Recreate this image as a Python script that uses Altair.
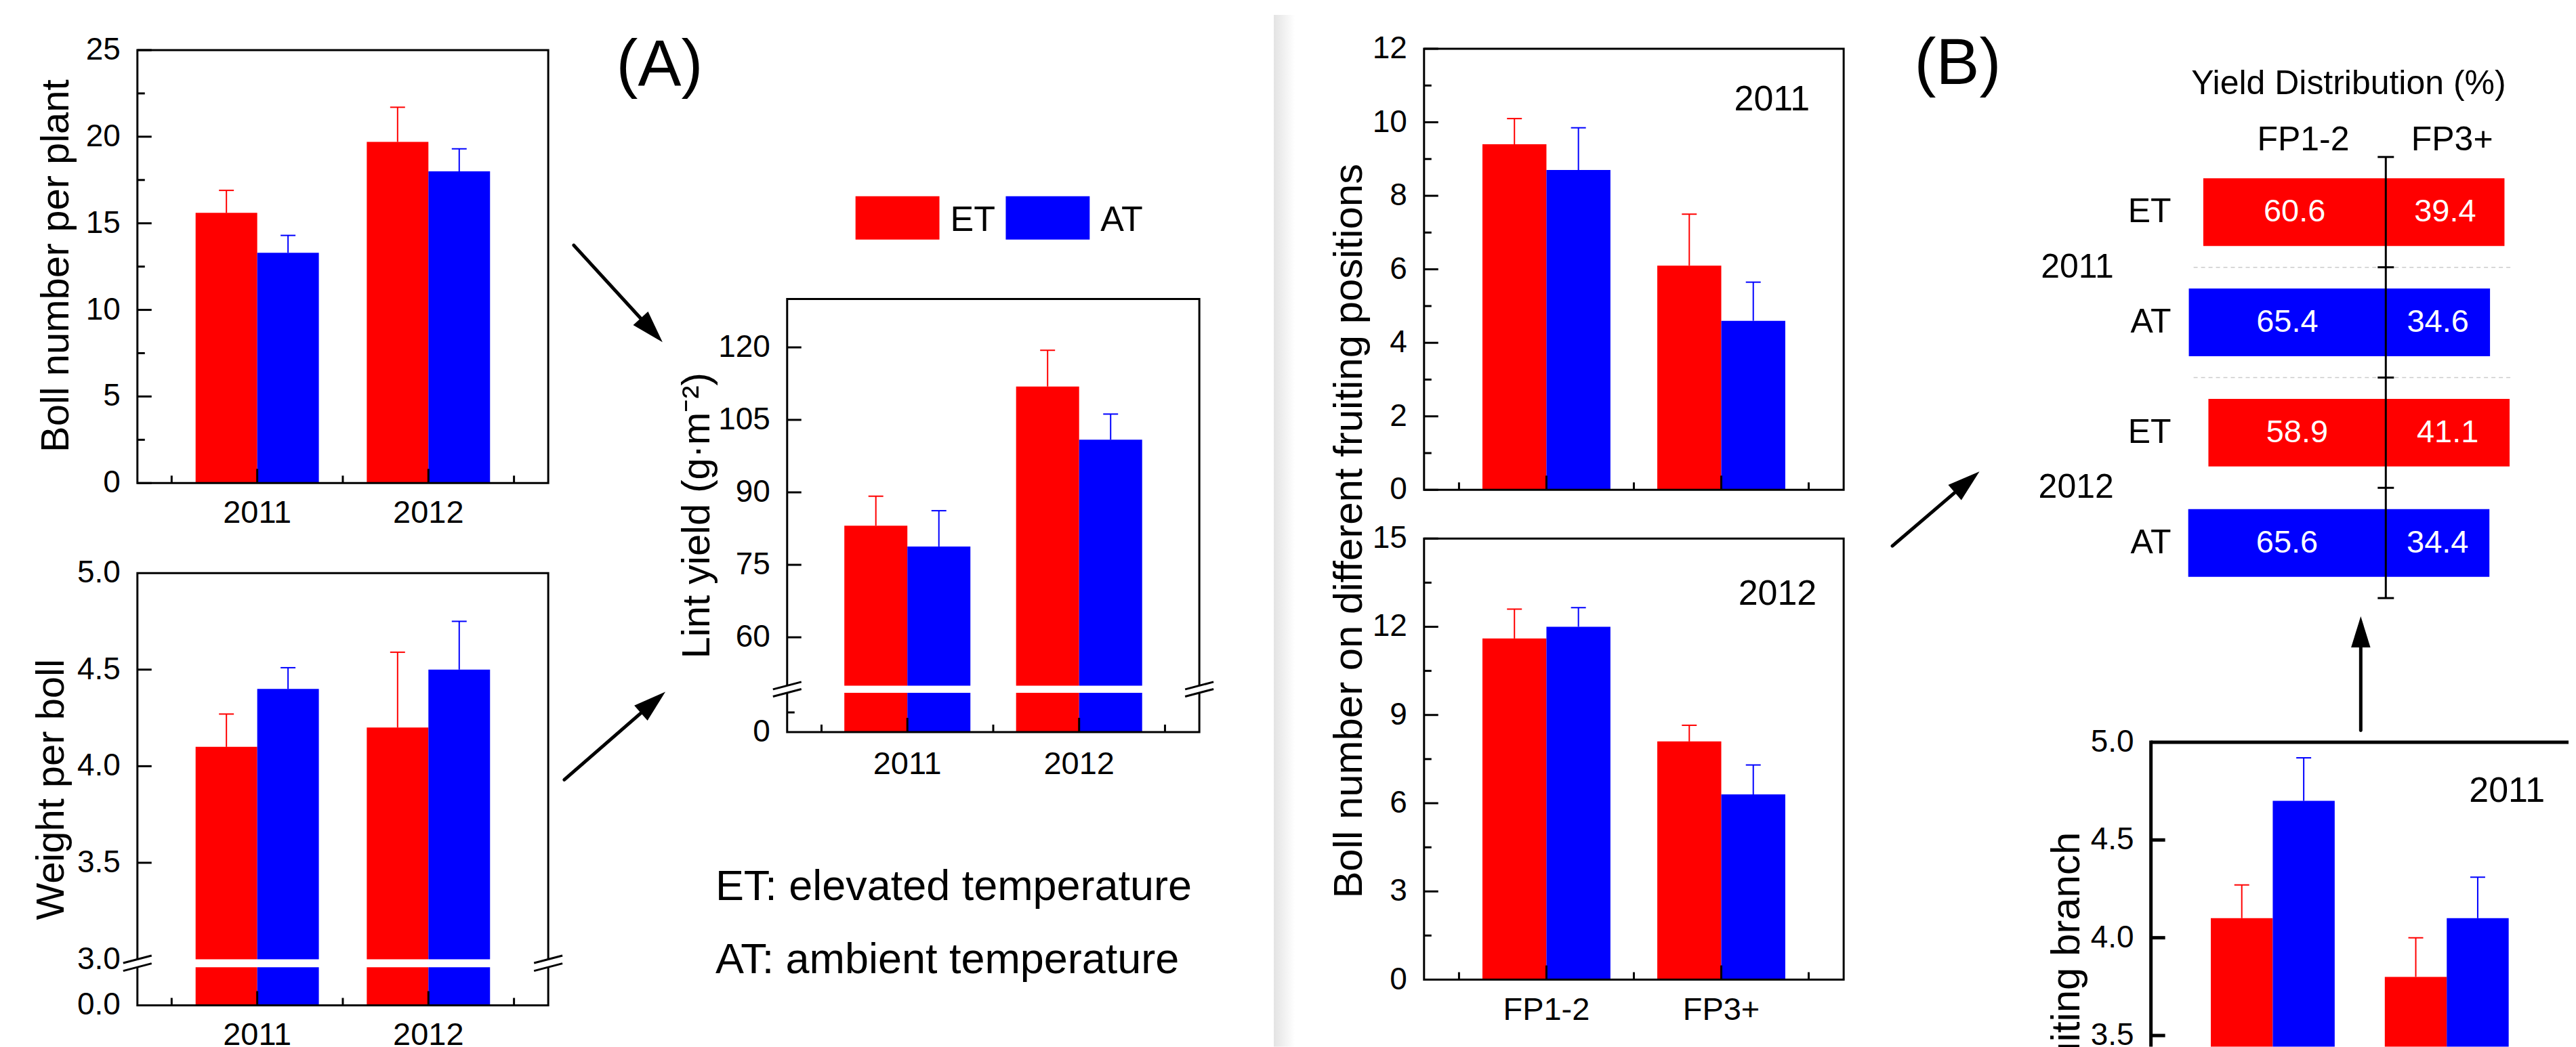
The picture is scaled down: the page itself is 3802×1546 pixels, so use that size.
import math
import altair as alt
import pandas as pd

FONT = "Liberation Sans"
RED = "#ff0000"
BLUE = "#0000ff"

# ---------------- data ----------------
years = ["2011", "2012"]
treatments = ["ET", "AT"]
positions = ["FP1-2", "FP3+"]

# order: 2011 ET, 2011 AT, 2012 ET, 2012 AT
boll_number = [15.6, 13.3, 19.7, 18.0]
boll_number_se = [1.3, 1.0, 2.0, 1.3]
boll_weight = [4.1, 4.4, 4.2, 4.5]
boll_weight_se = [0.17, 0.11, 0.39, 0.25]
lint_yield = [83.1, 78.8, 111.9, 100.9]
lint_yield_se = [6.1, 7.4, 7.5, 5.3]

# order: FP1-2 ET, FP1-2 AT, FP3+ ET, FP3+ AT
fp_2011 = [9.4, 8.7, 6.1, 4.6]
fp_2011_se = [0.7, 1.15, 1.4, 1.05]
fp_2012 = [11.6, 12.0, 8.1, 6.3]
fp_2012_se = [1.0, 0.65, 0.55, 1.0]

# yield distribution (%), order: 2011 ET, 2011 AT, 2012 ET, 2012 AT
dist_fp12 = [60.6, 65.4, 58.9, 65.6]
dist_fp3 = [39.4, 34.6, 41.1, 34.4]

# lower right panel (2011), order: FP1-2 ET, FP1-2 AT, FP3+ ET, FP3+ AT
branch_weight_2011 = [4.1, 4.7, 3.8, 4.1]
branch_weight_2011_se = [0.17, 0.22, 0.20, 0.21]

# axis ticks / labels
p1_ticks = [0, 5, 10, 15, 20, 25]
p1_minor = [2.5, 7.5, 12.5, 17.5, 22.5]
p2_label_values = [0, 3.0, 3.5, 4.0, 4.5, 5.0]
p2_ticks = [3.5, 4.0, 4.5]
p3_label_values = [0, 60, 75, 90, 105, 120]
p3_ticks = [60, 75, 90, 105, 120]
p3_minor = [5]
p4_ticks = [0, 2, 4, 6, 8, 10, 12]
p4_minor = [1, 3, 5, 7, 9, 11]
p5_ticks = [0, 3, 6, 9, 12, 15]
p5_minor = [1.5, 4.5, 7.5, 10.5, 13.5]
p7_label_values = [3.5, 4.0, 4.5, 5.0]
p7_ticks = [3.5, 4.0, 4.5]

notes = ["ET: elevated temperature", "AT: ambient temperature"]

# ---------------- helpers ----------------
ONE = pd.DataFrame({"k": [0]})
COLOR = alt.Color("trt:N", scale=alt.Scale(domain=treatments, range=[RED, BLUE]), legend=None)


def text_at(txt, x, y, size, **kw):
    return alt.Chart(ONE).mark_text(fontSize=size, font=FONT, **kw).encode(
        x=alt.value(x), y=alt.value(y), text=alt.value(txt))


def bar_panel(cats, means, ses, box, ydom, yrng, label_vals, label_txt, major, minor,
              xlab_y=-1.0, bw=0.36, stroke=3, clip=False, sides="box",
              brk=-1.0, gap=11.0, xticks=True):
    x0, y0, x1, y1 = box
    n = len(cats)
    rows = []
    k = 0
    for i, c in enumerate(cats):
        pos = i + 1
        for j, t in enumerate(treatments):
            lo = pos - bw if j == 0 else pos
            hi = pos if j == 0 else pos + bw
            rows.append({"cat": c, "trt": t, "lo": lo, "hi": hi, "xc": (lo + hi) / 2,
                         "mean": means[k], "top": means[k] + ses[k], "base": 0})
            k += 1
    df = pd.DataFrame(rows)
    xs = alt.Scale(domain=[0.3, n + 0.7], range=[x0, x1], zero=False, nice=False)
    ys = alt.Scale(domain=ydom, range=yrng, zero=False, nice=False)
    L = []
    L.append(alt.Chart(df).mark_bar(clip=clip).encode(
        x=alt.X("lo:Q", scale=xs, axis=None), x2="hi:Q",
        y=alt.Y("mean:Q", scale=ys, axis=None, stack=None), y2="base:Q", color=COLOR))
    L.append(alt.Chart(df).mark_rule(strokeWidth=2, clip=clip).encode(
        x=alt.X("xc:Q", scale=xs, axis=None), y=alt.Y("mean:Q", scale=ys, axis=None), y2="top:Q", color=COLOR))
    L.append(alt.Chart(df).mark_rule(strokeWidth=2, clip=clip, xOffset=-11, x2Offset=11).encode(
        x=alt.X("xc:Q", scale=xs, axis=None), x2="xc:Q", y=alt.Y("top:Q", scale=ys, axis=None), color=COLOR))
    # frame
    if sides == "box":
        L.append(alt.Chart(ONE).mark_rect(fillOpacity=0, stroke="black", strokeWidth=stroke).encode(
            x=alt.value(x0), x2=alt.value(x1), y=alt.value(y0), y2=alt.value(y1)))
    else:
        L.append(alt.Chart(ONE).mark_rule(color="black", strokeWidth=stroke).encode(
            x=alt.value(x0), y=alt.value(y0 - stroke / 2), y2=alt.value(y1)))
        L.append(alt.Chart(ONE).mark_rule(color="black", strokeWidth=stroke).encode(
            x=alt.value(x0), x2=alt.value(x1), y=alt.value(y0)))
    # axis break
    if brk >= 0:
        bdf = pd.DataFrame({"b": [brk]})
        L.append(alt.Chart(bdf).mark_rule(color="white", strokeWidth=gap, yOffset=gap / 2).encode(
            y=alt.Y("b:Q", scale=ys, axis=None), x=alt.value(x0 - 3), x2=alt.value(x1 + 3)))
        for side in (x0, x1):
            for d in (0, gap):
                L.append(alt.Chart(bdf).mark_rule(
                    color="black", strokeWidth=stroke, xOffset=-21, x2Offset=21,
                    yOffset=5.5 + d, y2Offset=-5.5 + d).encode(
                    x=alt.value(side), x2=alt.value(side),
                    y=alt.Y("b:Q", scale=ys, axis=None), y2="b:Q"))
    # y ticks (inward)
    if major:
        L.append(alt.Chart(pd.DataFrame({"v": major})).mark_rule(color="black", strokeWidth=stroke).encode(
            y=alt.Y("v:Q", scale=ys, axis=None), x=alt.value(x0), x2=alt.value(x0 + 21)))
    if minor:
        L.append(alt.Chart(pd.DataFrame({"v": minor})).mark_rule(color="black", strokeWidth=stroke).encode(
            y=alt.Y("v:Q", scale=ys, axis=None), x=alt.value(x0), x2=alt.value(x0 + 11)))
    # x ticks (inward): major at category centres, minor between
    cdf = pd.DataFrame({"cat": cats, "pos": [i + 1 for i in range(n)]})
    if xticks:
        L.append(alt.Chart(cdf).mark_rule(color="black", strokeWidth=stroke).encode(
            x=alt.X("pos:Q", scale=xs, axis=None), y=alt.value(y1), y2=alt.value(y1 - 21)))
        mdf = pd.DataFrame({"m": [i + 0.5 for i in range(n + 1)]})
        L.append(alt.Chart(mdf).mark_rule(color="black", strokeWidth=stroke).encode(
            x=alt.X("m:Q", scale=xs, axis=None), y=alt.value(y1), y2=alt.value(y1 - 11)))
    # tick labels
    L.append(alt.Chart(pd.DataFrame({"v": label_vals, "lab": label_txt})).mark_text(
        align="right", baseline="middle", fontSize=46, font=FONT).encode(
        y=alt.Y("v:Q", scale=ys, axis=None), x=alt.value(x0 - 25), text="lab:N"))
    if xlab_y >= 0:
        L.append(alt.Chart(cdf).mark_text(align="center", baseline="alphabetic", fontSize=47, font=FONT).encode(
            x=alt.X("pos:Q", scale=xs, axis=None), y=alt.value(xlab_y), text="cat:N"))
    return alt.layer(*L)


def arrow(tail, tip, head_len=48, width=5):
    dx, dy = tip[0] - tail[0], tip[1] - tail[1]
    n = math.hypot(dx, dy)
    ux, uy = dx / n, dy / n
    base = (tip[0] - ux * head_len * 0.8, tip[1] - uy * head_len * 0.8)
    center = (tip[0] - ux * head_len / 2, tip[1] - uy * head_len / 2)
    ang = math.degrees(math.atan2(dx, -dy)) % 360
    shaft = alt.Chart(ONE).mark_rule(color="black", strokeWidth=width, strokeCap="round").encode(
        x=alt.value(tail[0]), y=alt.value(tail[1]), x2=alt.value(base[0]), y2=alt.value(base[1]))
    head = alt.Chart(ONE).mark_point(shape="M0,-1L0.62,1L-0.62,1Z", size=head_len ** 2, filled=True,
                                     opacity=1, color="black", angle=ang).encode(
        x=alt.value(center[0]), y=alt.value(center[1]))
    return [shaft, head]


def fmt1(v):
    return f"{v:.1f}"


layers = []

# separator strip between (A) and (B)
layers.append(alt.Chart(ONE).mark_rect(color=alt.LinearGradient(
    gradient="linear", stops=[alt.GradientStop(color="#e3e3e3", offset=0),
                              alt.GradientStop(color="#ffffff", offset=1)],
    x1=0, x2=1, y1=0, y2=0)).encode(x=alt.value(1874), x2=alt.value(1905), y=alt.value(13), y2=alt.value(1538)))

# P1 boll number per plant
layers.append(bar_panel(years, boll_number, boll_number_se, (195, 65, 802, 705), [0, 25], [705, 65],
                        p1_ticks, [str(v) for v in p1_ticks], p1_ticks, p1_minor, xlab_y=764, bw=0.36))
layers.append(text_at("Boll number per plant", 93, 384, 58, angle=270, align="center", baseline="alphabetic"))

# P2 weight per boll (broken axis)
layers.append(bar_panel(years, boll_weight, boll_weight_se, (195, 838, 802, 1477), [0, 3.0, 5.0], [1477, 1409, 838],
                        p2_label_values, [fmt1(v) for v in p2_label_values], p2_ticks, [], xlab_y=1536,
                        bw=0.36, brk=3.0, gap=11.6))
layers.append(text_at("Weight per boll", 86.5, 1158, 58, angle=270, align="center", baseline="alphabetic"))

# P3 lint yield (broken axis)
layers.append(bar_panel(years, lint_yield, lint_yield_se, (1155, 433, 1764, 1073), [0, 10, 50, 130],
                        [1073, 1015, 1004.4, 433], p3_label_values, [str(v) for v in p3_label_values],
                        p3_ticks, p3_minor, xlab_y=1135, bw=0.367, brk=50, gap=10.6))
layers.append(text_at("Lint yield (g\u00b7m\u207b\u00b2)", 1039.6, 753, 58, angle=270, align="center",
                      baseline="alphabetic"))

# legend
ldf = pd.DataFrame({"trt": treatments, "i": list(range(len(treatments)))})
lx = alt.X("i:Q", scale=alt.Scale(domain=[0, 1], range=[1318, 1540], zero=False, nice=False), axis=None)
layers.append(alt.layer(
    alt.Chart(ldf).mark_point(shape="M-1,-0.516H1V0.516H-1Z", size=124 ** 2, filled=True, opacity=1).encode(
        x=lx, y=alt.value(313), color=COLOR),
    alt.Chart(ldf).mark_text(align="left", baseline="middle", dx=78, fontSize=52, font=FONT).encode(
        x=lx, y=alt.value(316), text="trt:N"),
))

# notes and panel tags
layers.append(text_at(notes[0], 1049, 1321, 63, align="left", baseline="alphabetic"))
layers.append(text_at(notes[1], 1049, 1429, 63, align="left", baseline="alphabetic"))
layers.append(text_at("(A)", 966.5, 117, 96, align="center", baseline="alphabetic"))
layers.append(text_at("(B)", 2884.5, 115.4, 96, align="center", baseline="alphabetic"))

# P4 / P5 boll number on fruiting positions
layers.append(bar_panel(positions, fp_2011, fp_2011_se, (2096, 63, 2716, 715), [0, 12], [715, 63],
                        p4_ticks, [str(v) for v in p4_ticks], p4_ticks, p4_minor, bw=0.366))
layers.append(text_at(years[0], 2666, 154, 52, align="right", baseline="alphabetic"))
layers.append(bar_panel(positions, fp_2012, fp_2012_se, (2096, 787, 2716, 1439), [0, 15], [1439, 787],
                        p5_ticks, [str(v) for v in p5_ticks], p5_ticks, p5_minor, xlab_y=1499, bw=0.366))
layers.append(text_at(years[1], 2676, 885, 52, align="right", baseline="alphabetic"))
layers.append(text_at("Boll number on different fruiting positions", 2004, 776, 60, angle=270,
                      align="center", baseline="alphabetic"))

# P6 yield distribution (rows at 0.5 .. 3.5 on a 0-4 axis)
rows = [(y, t) for y in years for t in treatments]
half = 0.307
drows = []
for k, (yr, t) in enumerate(rows):
    c = k + 0.5
    drows.append({"trt": t, "c": c, "c0": c - half, "c1": c + half, "start": -dist_fp12[k], "end": 0,
                  "mid": -dist_fp12[k] / 2, "lab": fmt1(dist_fp12[k])})
    drows.append({"trt": t, "c": c, "c0": c - half, "c1": c + half, "start": 0, "end": dist_fp3[k],
                  "mid": dist_fp3[k] / 2, "lab": fmt1(dist_fp3[k])})
ddf = pd.DataFrame(drows)
xs6 = alt.Scale(domain=[-100, 100], range=[3072, 3962], zero=False, nice=False)
ys6 = alt.Scale(domain=[0, len(rows)], range=[223, 875], zero=False, nice=False)
rdf = pd.DataFrame({"c": [k + 0.5 for k in range(len(rows))], "lab": [t for _, t in rows]})
bnd = pd.DataFrame({"b": list(range(len(rows) + 1))})
ydf = pd.DataFrame({"b": [2 * i + 1 for i in range(len(years))], "lab": years})
p6 = [
    alt.Chart(pd.DataFrame({"b": [1, 2]})).mark_rule(color="#cccccc", strokeWidth=1.5, strokeDash=[6, 5]).encode(
        y=alt.Y("b:Q", scale=ys6, axis=None), x=alt.value(3233), x2=alt.value(3702)),
    alt.Chart(ddf).mark_bar().encode(
        x=alt.X("start:Q", scale=xs6, axis=None), x2="end:Q",
        y=alt.Y("c0:Q", scale=ys6, axis=None, stack=None), y2="c1:Q", color=COLOR),
    alt.Chart(pd.DataFrame({"z": [0]})).mark_rule(color="black", strokeWidth=3).encode(
        x=alt.X("z:Q", scale=xs6, axis=None), y=alt.value(223), y2=alt.value(875)),
    alt.Chart(bnd.assign(z=0)).mark_rule(color="black", strokeWidth=3, xOffset=-12, x2Offset=12).encode(
        x=alt.X("z:Q", scale=xs6, axis=None), x2="z:Q", y=alt.Y("b:Q", scale=ys6, axis=None)),
    alt.Chart(ddf).mark_text(color="white", fontSize=47, baseline="middle", font=FONT).encode(
        x=alt.X("mid:Q", scale=xs6, axis=None), y=alt.Y("c:Q", scale=ys6, axis=None), text="lab:N"),
    alt.Chart(rdf).mark_text(align="right", baseline="middle", fontSize=50, font=FONT).encode(
        x=alt.value(3200), y=alt.Y("c:Q", scale=ys6, axis=None), text="lab:N"),
    alt.Chart(ydf).mark_text(align="right", baseline="middle", fontSize=50, font=FONT).encode(
        x=alt.value(3115), y=alt.Y("b:Q", scale=ys6, axis=None), text="lab:N"),
]
layers.append(alt.layer(*p6))
layers.append(text_at("Yield Distribution (%)", 3462, 130, 50, align="center", baseline="alphabetic"))
layers.append(text_at(positions[0], 3395, 213, 50, align="center", baseline="alphabetic"))
layers.append(text_at(positions[1], 3615, 213, 50, align="center", baseline="alphabetic"))

# P7 lower right (partly outside the picture)
layers.append(bar_panel(positions, branch_weight_2011, branch_weight_2011_se, (3170, 1088, 3787, 1538),
                        [3.5, 5.0], [1521.6, 1088], p7_label_values, [fmt1(v) for v in p7_label_values],
                        p7_ticks, [], bw=0.356, stroke=5, clip=True, sides="lt", xticks=False))
layers.append(text_at(years[0], 3752, 1176, 52, align="right", baseline="alphabetic"))
layers.append(text_at("Boll weight on fruiting branch", 3064, 1221, 60, angle=270, align="right",
                      baseline="alphabetic"))

# arrows
layers += arrow((839.7, 353.4), (970.9, 496.8))
layers += arrow((825.7, 1143.5), (975.1, 1013.4))
layers += arrow((2788, 798), (2916.6, 687.8))
layers += arrow((3480, 1070.6), (3480, 902), head_len=46)

chart = alt.layer(*layers).resolve_scale(
    x="independent", y="independent"
).properties(width=3786, height=1538, padding=0).configure(font=FONT).configure_view(strokeWidth=0)

chart.save("out.html", embed_options={"renderer": "svg", "actions": False})
